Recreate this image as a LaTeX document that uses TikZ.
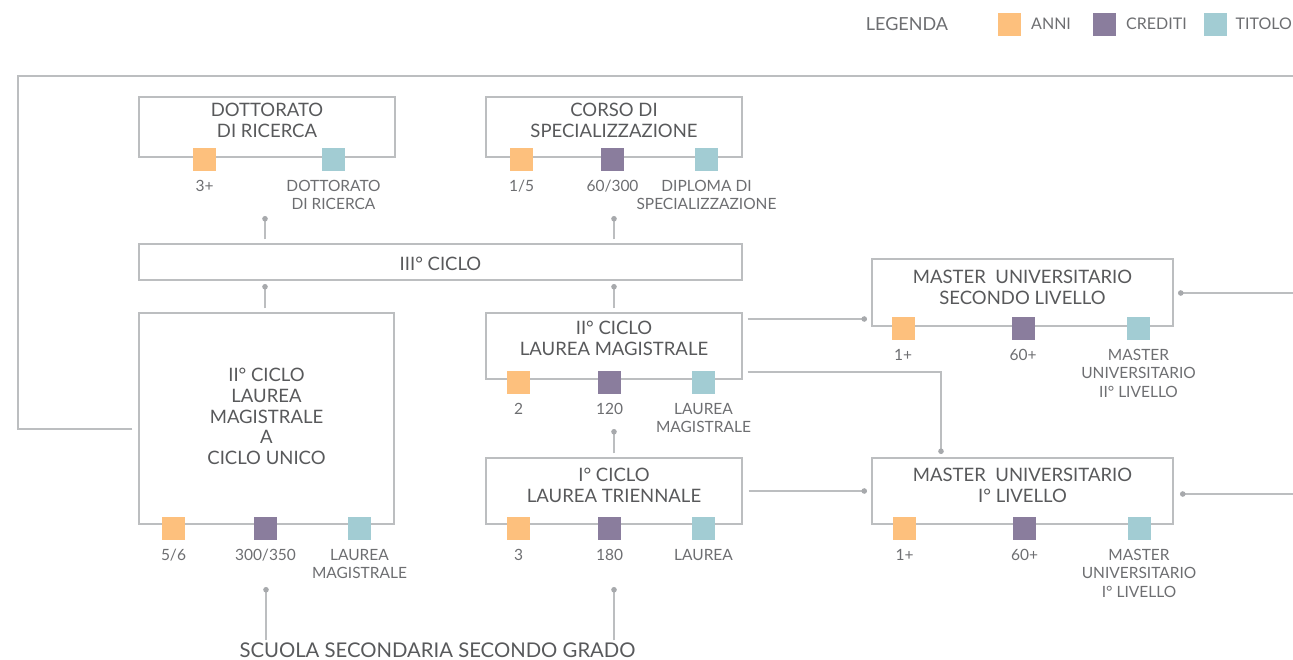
\documentclass[tikz,border=0pt]{standalone}
\usepackage{fontspec}
\setmainfont{Lato}
\usetikzlibrary{arrows.meta}
\definecolor{boxc}{HTML}{BCBEC0}
\definecolor{linec}{HTML}{BCBEC0}
\definecolor{dotc}{HTML}{A7A9AC}
\definecolor{titc}{HTML}{58595B}
\definecolor{labc}{HTML}{6D6E71}
\definecolor{anni}{HTML}{FDC07D}
\definecolor{crediti}{HTML}{8A7D9D}
\definecolor{titolo}{HTML}{A2CCD3}
\tikzset{
  box/.style={draw=boxc, line width=1.3pt, rectangle, inner sep=0pt},
  ttl/.style={font=\fontsize{18.5}{21}\selectfont, text=titc, align=center, inner sep=0pt, anchor=north},
  lab/.style={font=\fontsize{15.5}{18.5}\selectfont, text=labc, align=center, inner sep=0pt, anchor=north},
  sq/.style={minimum size=23pt, inner sep=0pt, fill=#1},
  conn/.style={draw=linec, line width=1.2pt, -{Circle[length=5.5pt,width=5.5pt,color=dotc]}},
  plain/.style={draw=linec, line width=1.2pt},
  leg/.style={font=\fontsize{16}{19}\selectfont, text=labc, inner sep=0pt}
}
\begin{document}
\begin{tikzpicture}[x=1pt,y=-1pt]
\useasboundingbox (0,0) rectangle (1293,659);
% legend
\node[leg, font=\fontsize{18}{21}\selectfont] (legenda) at (907,24) {LEGENDA};
\node[sq=anni] (lg1) at (1009.5,24.5) {};
\node[leg, anchor=west] (lt1) at (1031,24) {ANNI};
\node[sq=crediti] (lg2) at (1104.5,24.5) {};
\node[leg, anchor=west] (lt2) at (1126,24) {CREDITI};
\node[sq=titolo] (lg3) at (1215.5,24.5) {};
\node[leg, anchor=east] (lt3) at (1292,24) {TITOLO};

% boxes
\node[box, minimum width=256pt, minimum height=60pt] (dott) at (267,127) {};
\node[box, minimum width=256pt, minimum height=60pt] (corso) at (614,127) {};
\node[box, minimum width=603pt, minimum height=36pt] (iii) at (440.5,262) {};
\node[box, minimum width=255pt, minimum height=211pt] (unico) at (266.5,418.5) {};
\node[box, minimum width=256pt, minimum height=66pt] (lm) at (614,346) {};
\node[box, minimum width=256pt, minimum height=66pt] (ic) at (614,491) {};
\node[box, minimum width=301pt, minimum height=67pt] (m2) at (1022.5,292.5) {};
\node[box, minimum width=301pt, minimum height=66pt] (m1) at (1022.5,491) {};

% titles
\node[ttl] (tdott) at (267,103) {DOTTORATO\\DI RICERCA};
\node[ttl] (tcorso) at (614,103) {CORSO DI\\SPECIALIZZAZIONE};
\node[ttl, anchor=center] (tiii) at (440.5,264) {III° CICLO};
\node[ttl, font=\fontsize{18.5}{20.7}\selectfont] (tunico) at (266.5,368) {II° CICLO\\LAUREA\\MAGISTRALE\\A\\CICLO UNICO};
\node[ttl] (tlm) at (614,321) {II° CICLO\\LAUREA MAGISTRALE};
\node[ttl] (tic) at (614,468) {I° CICLO\\LAUREA TRIENNALE};
\node[ttl] (tm2) at (1022.5,269.5) {MASTER\ \ UNIVERSITARIO\\SECONDO LIVELLO};
\node[ttl] (tm1) at (1022.5,468) {MASTER\ \ UNIVERSITARIO\\I° LIVELLO};

% squares and labels: dottorato
\node[sq=anni] (dott1) at (204.5,159.5) {};
\node[sq=titolo] (dott3) at (333.5,159.5) {};
\node[lab] (ldott1) at (204.5,180) {3+};
\node[lab] (ldott3) at (333.5,180) {DOTTORATO\\DI RICERCA};
% corso
\node[sq=anni] (corso1) at (521.5,159.5) {};
\node[sq=crediti] (corso2) at (612.5,159.5) {};
\node[sq=titolo] (corso3) at (706.5,159.5) {};
\node[lab] (lcorso1) at (521.5,180) {1/5};
\node[lab] (lcorso2) at (612.5,180) {60/300};
\node[lab] (lcorso3) at (706.5,180) {DIPLOMA DI\\SPECIALIZZAZIONE};
% unico
\node[sq=anni] (unico1) at (173.5,528.5) {};
\node[sq=crediti] (unico2) at (265.5,528.5) {};
\node[sq=titolo] (unico3) at (359.5,528.5) {};
\node[lab] (lunico1) at (173.5,549) {5/6};
\node[lab] (lunico2) at (265.5,549) {300/350};
\node[lab] (lunico3) at (359.5,549) {LAUREA\\MAGISTRALE};
% lm
\node[sq=anni] (lm1) at (518.5,382) {};
\node[sq=crediti] (lm2) at (609.5,382) {};
\node[sq=titolo] (lm3) at (703.5,382) {};
\node[lab] (llm1) at (518.5,403) {2};
\node[lab] (llm2) at (609.5,403) {120};
\node[lab] (llm3) at (703.5,403) {LAUREA\\MAGISTRALE};
% ic
\node[sq=anni] (ic1) at (518.5,528.5) {};
\node[sq=crediti] (ic2) at (609.5,528.5) {};
\node[sq=titolo] (ic3) at (703.5,528.5) {};
\node[lab] (lic1) at (518.5,549) {3};
\node[lab] (lic2) at (609.5,549) {180};
\node[lab] (lic3) at (703.5,549) {LAUREA};
% m2
\node[sq=anni] (m21) at (903,328.5) {};
\node[sq=crediti] (m22) at (1023,328.5) {};
\node[sq=titolo] (m23) at (1138.5,328.5) {};
\node[lab] (lm21) at (903,349) {1+};
\node[lab] (lm22) at (1023,349) {60+};
\node[lab] (lm23) at (1138.5,349) {MASTER\\UNIVERSITARIO\\II° LIVELLO};
% m1
\node[sq=anni] (m11) at (904.5,528.5) {};
\node[sq=crediti] (m12) at (1024.5,528.5) {};
\node[sq=titolo] (m13) at (1139,528.5) {};
\node[lab] (lm11) at (904.5,549) {1+};
\node[lab] (lm12) at (1024.5,549) {60+};
\node[lab] (lm13) at (1139,549) {MASTER\\UNIVERSITARIO\\I° LIVELLO};

% bottom text
\node[ttl, anchor=center, font=\fontsize{20.3}{24}\selectfont] (scuola) at (437.5,650) {SCUOLA SECONDARIA SECONDO GRADO};

% connector ends
\coordinate (e1) at (265,216);
\coordinate (e2) at (614,216);
\coordinate (e3) at (265,284);
\coordinate (e4) at (614,284);
\coordinate (e5) at (867,319);
\coordinate (k6) at (941,372);
\coordinate (e6) at (941,454);
\coordinate (e7) at (614,429);
\coordinate (e8) at (867,491);
\coordinate (r2) at (1293,293);
\coordinate (e9) at (1178,293);
\coordinate (r1) at (1293,494);
\coordinate (e10) at (1180,494);
\coordinate (e11) at (266,587);
\coordinate (e12) at (614,587);
\coordinate (o1) at (18,429);
\coordinate (o2) at (18,76);
\coordinate (o3) at (1293,76);

\draw[conn] ([yshift=4pt]e1 |- iii.north) -- (e1);
\draw[conn] ([yshift=4pt]e2 |- iii.north) -- (e2);
\draw[conn] ([yshift=4pt]e3 |- unico.north) -- (e3);
\draw[conn] ([yshift=4pt]e4 |- lm.north) -- (e4);
\draw[conn] ([xshift=5pt]lm.east |- e5) -- (e5);
\draw[conn] ([xshift=5pt]lm.east |- k6) -- (k6) -- (e6);
\draw[conn] ([yshift=4pt]e7 |- ic.north) -- (e7);
\draw[conn] ([xshift=6pt]ic.east) -- (e8);
\draw[conn] (r2) -- (e9);
\draw[conn] (r1) -- (e10);
\draw[conn] ([yshift=2pt]e11 |- scuola.north) -- (e11);
\draw[conn] ([yshift=2pt]e12 |- scuola.north) -- (e12);
\draw[plain] ([xshift=-6pt]unico.west |- o1) -- (o1) -- (o2) -- (o3);
\end{tikzpicture}
\end{document}
